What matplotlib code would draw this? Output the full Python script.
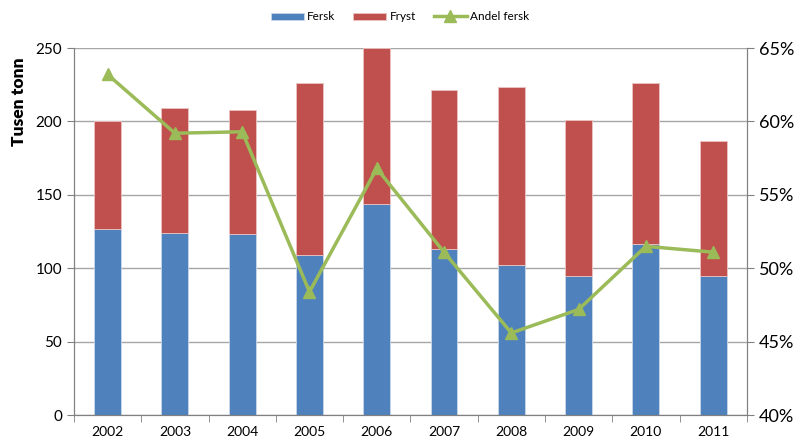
import matplotlib.pyplot as plt
from matplotlib.ticker import FuncFormatter

plt.rcParams['font.family'] = ['Lato', 'DejaVu Sans']

years = ['2002', '2003', '2004', '2005', '2006', '2007', '2008', '2009', '2010', '2011']
fersk = [126.5, 123.8, 123.1, 109.2, 143.5, 112.9, 102.0, 94.5, 116.5, 95.1]
totalt = [200.0, 209.1, 207.8, 226.0, 249.8, 221.2, 223.4, 200.7, 226.2, 186.4]
fryst = [t - f for t, f in zip(totalt, fersk)]
andel_fersk = [63.2, 59.2, 59.3, 48.4, 56.8, 51.1, 45.6, 47.2, 51.5, 51.1]

blue = '#4F81BD'
red = '#C0504D'
green = '#9BBB59'
grid_col = '#A6A6A6'

fig = plt.figure(figsize=(8, 4.45), dpi=100)
ax = fig.add_axes([0.0925, 0.067, 0.841, 0.825])
x = list(range(len(years)))

b1 = ax.bar(x, fersk, width=0.4, color=blue, edgecolor='#C9D7EA', linewidth=0.6, label='Fersk', zorder=2)
b2 = ax.bar(x, fryst, width=0.4, bottom=fersk, color=red, edgecolor='#ECC4C3', linewidth=0.6, label='Fryst', zorder=2)

ax.set_xlim(-0.5, len(years) - 0.5)
ax.set_ylim(0, 250)
ax.set_yticks([0, 50, 100, 150, 200, 250])
ax.yaxis.grid(True, color=grid_col, linewidth=1)
ax.set_axisbelow(True)
ax.set_xticks(x)
ax.set_xticklabels(years, fontsize=10)
ax.set_xticks([i - 0.5 for i in range(len(years) + 1)], minor=True)
ax.tick_params(axis='x', which='major', length=0, pad=8)
ax.tick_params(axis='x', which='minor', length=5, color='#808080')
ax.tick_params(axis='y', length=5, color='#808080', labelsize=11)
ax.set_ylabel('Tusen tonn', fontsize=12.5, fontweight='heavy')
ax.yaxis.set_label_coords(-0.07, 0.855)
ax.spines['top'].set_visible(False)
for s in ['left', 'bottom', 'right']:
    ax.spines[s].set_color('#808080')

ax2 = ax.twinx()
l1, = ax2.plot(x, andel_fersk, color=green, linewidth=2.5, marker='^', markersize=8, label='Andel fersk', zorder=3)
ax2.set_ylim(40, 65)
ax2.set_yticks([40, 45, 50, 55, 60, 65])
ax2.yaxis.set_major_formatter(FuncFormatter(lambda v, p: '%d%%' % v))
ax2.tick_params(axis='y', length=5, color='#808080', labelsize=13)
ax2.spines['top'].set_visible(False)
for s in ['left', 'bottom', 'right']:
    ax2.spines[s].set_color('#808080')

fig.legend([b1, b2, l1], ['Fersk', 'Fryst', 'Andel fersk'], loc='center', bbox_to_anchor=(0.5, 0.962),
           ncol=3, frameon=False, fontsize=8.5, handlelength=2.8, handleheight=0.6, columnspacing=1.5, handletextpad=0.3)

fig.savefig('out.png', dpi=100)
